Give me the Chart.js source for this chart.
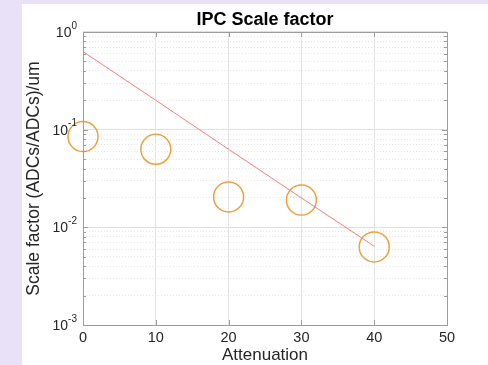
<!DOCTYPE html>
<html>
<head>
<meta charset="utf-8">
<script src="https://cdn.jsdelivr.net/npm/chart.js@4/dist/chart.umd.min.js"></script>
<style>
  html, body { margin: 0; padding: 0; background: #e8e1f8; width: 488px; height: 365px; overflow: hidden; }
  #panel { position: absolute; left: 22px; top: 4px; width: 466px; height: 361px; background: #fff; }
</style>
</head>
<body>
<div id="panel"><canvas id="chart"></canvas></div>
<script>
// measured points (orange circles)
const attenuation = [0, 10, 20, 30, 40];
const scaleFactor = [0.085, 0.063, 0.0205, 0.019, 0.0063];
// exponential fit (red line)
const fitX = [0, 10, 20, 30, 40];
const fitY = [0.63, 0.20, 0.063, 0.020, 0.0064];

const xTicks = [0, 10, 20, 30, 40, 50];
const yTickValues = [1, 0.1, 0.01, 0.001];
const yTickExponents = ['0', '-1', '-2', '-3'];

const FONT = "'Liberation Sans', Arial, Helvetica, sans-serif";
const AXIS = '#9c9c9c';

function isDecade(v) {
  const l = Math.log10(v);
  return Math.abs(l - Math.round(l)) < 1e-9;
}

// superscript labels, box outline and inner tick marks
const matlabAxes = {
  id: 'matlabAxes',
  afterDraw(chart) {
    const ctx = chart.ctx;
    const ca = chart.chartArea;
    const xs = chart.scales.x, ys = chart.scales.y;
    ctx.save();

    ctx.strokeStyle = AXIS;
    ctx.lineWidth = 1;
    ctx.beginPath();
    ys.ticks.forEach(t => {
      const y = Math.round(ys.getPixelForValue(t.value)) + 0.5;
      const len = isDecade(t.value) ? 5 : 3;
      ctx.moveTo(ca.left, y); ctx.lineTo(ca.left + len, y);
      ctx.moveTo(ca.right, y); ctx.lineTo(ca.right - len, y);
    });
    xTicks.forEach(v => {
      const x = Math.round(xs.getPixelForValue(v)) + 0.5;
      ctx.moveTo(x, ca.bottom); ctx.lineTo(x, ca.bottom - 5);
      ctx.moveTo(x, ca.top); ctx.lineTo(x, ca.top + 5);
    });
    ctx.stroke();
    ctx.strokeRect(Math.round(ca.left) + 0.5, Math.round(ca.top) + 0.5,
      Math.round(ca.right - ca.left), Math.round(ca.bottom - ca.top));

    ctx.fillStyle = '#262626';
    ctx.textBaseline = 'middle';
    const rightEdge = ca.left - 6;
    yTickValues.forEach((v, i) => {
      const y = ys.getPixelForValue(v);
      ctx.font = '10px ' + FONT;
      const ew = ctx.measureText(yTickExponents[i]).width;
      ctx.textAlign = 'left';
      ctx.fillText(yTickExponents[i], rightEdge - ew, y - 6);
      ctx.font = '14px ' + FONT;
      ctx.textAlign = 'right';
      ctx.fillText('10', rightEdge - ew, y + 1);
    });
    ctx.restore();
  }
};

new Chart(document.getElementById('chart'), {
  type: 'scatter',
  data: {
    datasets: [
      {
        type: 'line',
        data: fitX.map((x, i) => ({ x: x, y: fitY[i] })),
        borderColor: '#ff7b7b',
        borderWidth: 1,
        pointRadius: 0,
        fill: false,
        tension: 0,
        clip: false
      },
      {
        data: attenuation.map((x, i) => ({ x: x, y: scaleFactor[i] })),
        borderColor: '#eea040',
        backgroundColor: 'rgba(0,0,0,0)',
        borderWidth: 1.5,
        pointRadius: 15,
        pointHoverRadius: 15,
        clip: false
      }
    ]
  },
  plugins: [matlabAxes],
  options: {
    responsive: true,
    maintainAspectRatio: false,
    animation: false,
    layout: { padding: { left: 0, right: 41, top: 0, bottom: 0 } },
    plugins: {
      legend: { display: false },
      tooltip: { enabled: false },
      title: {
        display: true,
        fullSize: false,
        text: 'IPC Scale factor',
        color: '#000',
        font: { family: FONT, size: 18, weight: 'bold', lineHeight: 1.2 },
        padding: { top: 5.6, bottom: 0.8 }
      }
    },
    scales: {
      x: {
        type: 'linear',
        min: 0,
        max: 50,
        afterFit(scale) { scale.height = 40; },
        afterBuildTicks(scale) { scale.ticks = xTicks.map(v => ({ value: v })); },
        ticks: {
          color: '#262626',
          font: { family: FONT, size: 14.5 },
          padding: 4,
          maxRotation: 0
        },
        grid: { color: '#e4e4e4', drawTicks: false },
        border: { display: false },
        title: {
          display: true,
          text: 'Attenuation',
          color: '#262626',
          font: { family: FONT, size: 17, lineHeight: 1 },
          padding: { top: 0, bottom: 1 }
        }
      },
      y: {
        type: 'logarithmic',
        min: 0.001,
        max: 1,
        afterFit(scale) { scale.width = 61; },
        afterBuildTicks(scale) {
          const t = [];
          for (let d = -3; d < 0; d++) {
            for (let k = 1; k < 10; k++) t.push({ value: k * Math.pow(10, d) });
          }
          t.push({ value: 1 });
          scale.ticks = t;
        },
        ticks: { display: false },
        grid: {
          drawTicks: false,
          color: ctx => (ctx.tick && isDecade(ctx.tick.value)) ? '#e0e0e0' : '#e6e6e6'
        },
        border: {
          display: false,
          dash: ctx => (ctx.tick && !isDecade(ctx.tick.value)) ? [1, 2] : []
        },
        title: {
          display: true,
          text: 'Scale factor (ADCs/ADCs)/um',
          color: '#262626',
          font: { family: FONT, size: 17.5, lineHeight: 1 },
          padding: { top: 3.5, bottom: 0 }
        }
      }
    }
  }
});
</script>
</body>
</html>
